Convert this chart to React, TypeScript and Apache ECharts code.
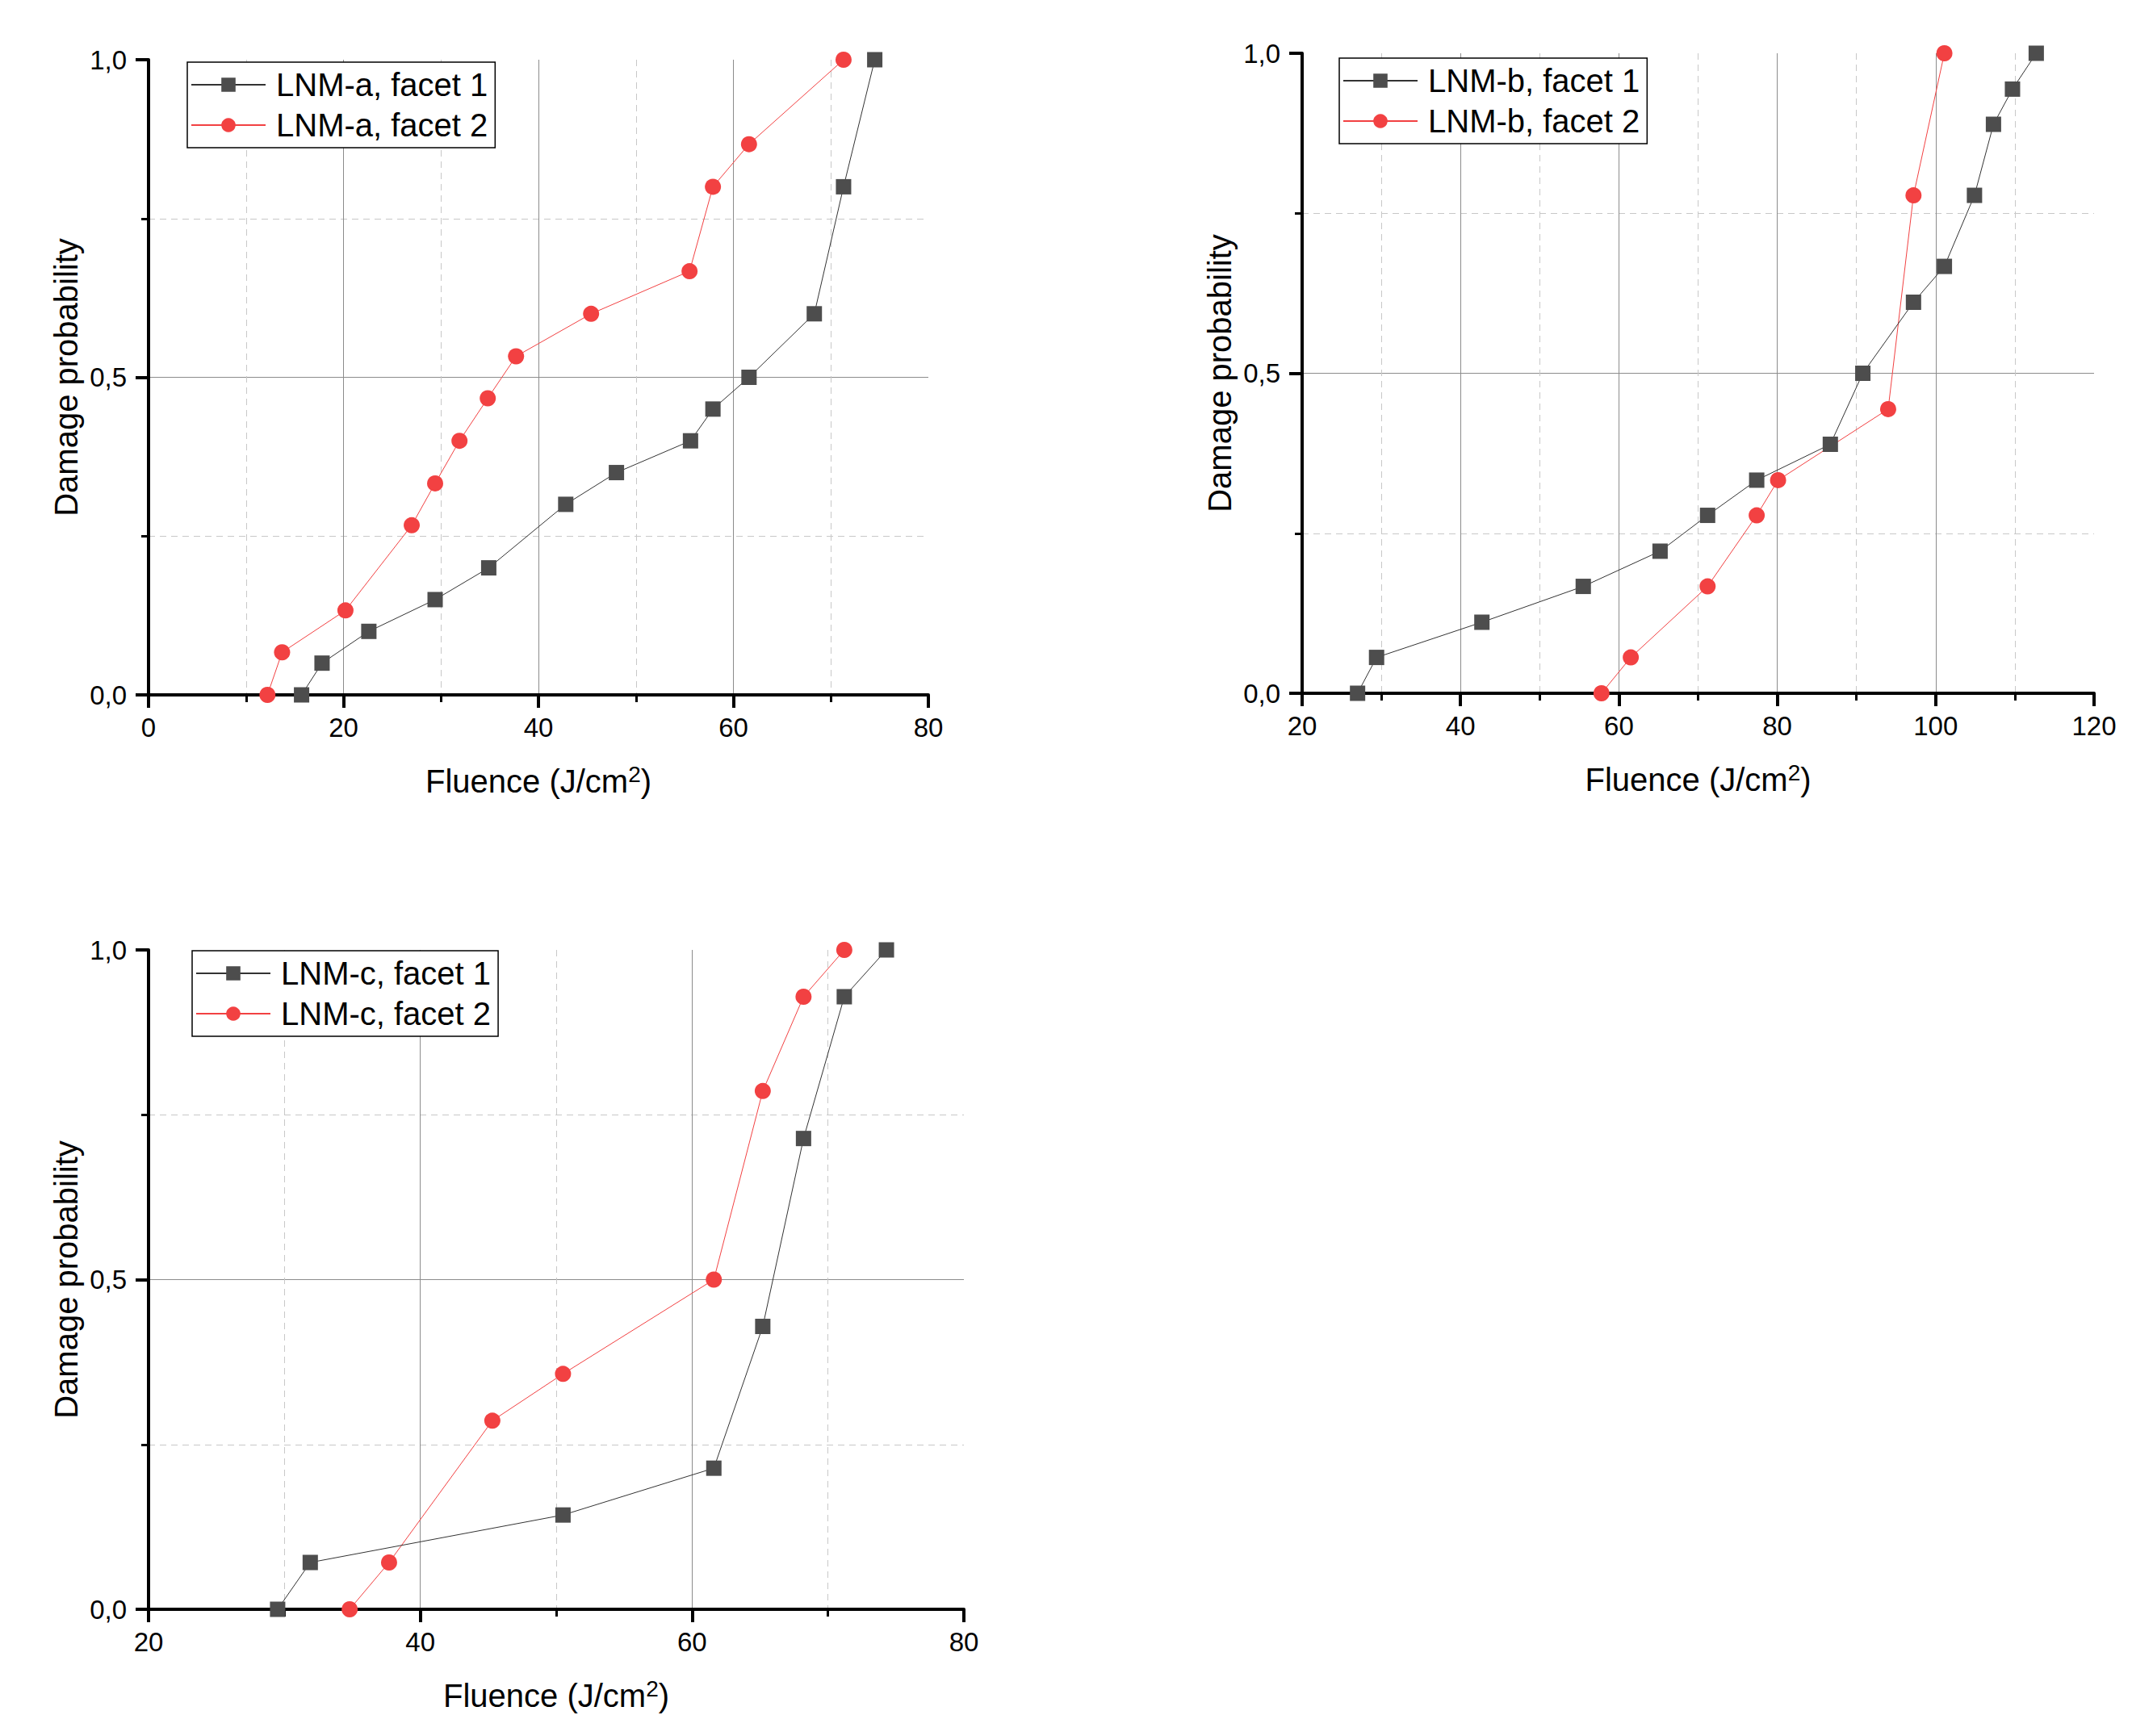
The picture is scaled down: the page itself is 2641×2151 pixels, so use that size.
import React, { useEffect, useRef } from "react";
import * as echarts from "echarts";

const FONT = '"Liberation Sans", Arial, sans-serif';

// ---- Panel a ----
const aFacet1X = [15.7, 17.8, 22.6, 29.4, 34.9, 42.8, 48.0, 55.6, 57.9, 61.6, 68.3, 71.3, 74.5];
const aFacet1Y = [0, 0.05, 0.1, 0.15, 0.2, 0.3, 0.35, 0.4, 0.45, 0.5, 0.6, 0.8, 1.0];
const aFacet2X = [12.2, 13.7, 20.2, 27.0, 29.4, 31.9, 34.8, 37.7, 45.4, 55.5, 57.9, 61.6, 71.3];
const aFacet2Y = [0, 0.067, 0.133, 0.267, 0.333, 0.4, 0.467, 0.533, 0.6, 0.667, 0.8, 0.867, 1.0];

// ---- Panel b ----
const bFacet1X = [27.0, 29.4, 42.7, 55.5, 65.2, 71.2, 77.4, 86.7, 90.8, 97.2, 101.1, 104.9, 107.3, 109.7, 112.7];
const bFacet1Y = [0, 0.056, 0.111, 0.167, 0.222, 0.278, 0.333, 0.389, 0.5, 0.611, 0.667, 0.778, 0.889, 0.944, 1.0];
const bFacet2X = [57.8, 61.5, 71.2, 77.4, 80.1, 94.0, 97.2, 101.1];
const bFacet2Y = [0, 0.056, 0.167, 0.278, 0.333, 0.444, 0.778, 1.0];

// ---- Panel c ----
const cFacet1X = [29.5, 31.9, 50.5, 61.6, 65.2, 68.2, 71.2, 74.3];
const cFacet1Y = [0, 0.071, 0.143, 0.214, 0.429, 0.714, 0.929, 1.0];
const cFacet2X = [34.8, 37.7, 45.3, 50.5, 61.6, 65.2, 68.2, 71.2];
const cFacet2Y = [0, 0.071, 0.286, 0.357, 0.5, 0.786, 0.929, 1.0];

const seriesNames = [
  ["LNM-a, facet 1", "LNM-a, facet 2"],
  ["LNM-b, facet 1", "LNM-b, facet 2"],
  ["LNM-c, facet 1", "LNM-c, facet 2"],
];
const xRanges = [
  [0, 80],
  [20, 120],
  [20, 80],
];
const yTicks = [0, 0.5, 1];
const xTitleMain = "Fluence (J/cm";
const xTitleSup = "2";
const xTitleEnd = ")";
const yTitle = "Damage probability";

function pairs(xs: number[], ys: number[]) {
  return xs.map((x, i) => [x, ys[i]]);
}

const panelData = [
  [pairs(aFacet1X, aFacet1Y), pairs(aFacet2X, aFacet2Y)],
  [pairs(bFacet1X, bFacet1Y), pairs(bFacet2X, bFacet2Y)],
  [pairs(cFacet1X, cFacet1Y), pairs(cFacet2X, cFacet2Y)],
];

// layout (pixels)
const layout = [
  { grid: { left: 184, top: 74, width: 966, height: 787 }, legend: { left: 232, top: 77 } },
  { grid: { left: 1613, top: 66, width: 981, height: 793 }, legend: { left: 1659, top: 72 } },
  { grid: { left: 184, top: 1177, width: 1010, height: 817 }, legend: { left: 238, top: 1178 } },
];

const GRAY = "#4d4d4d";
const RED = "#f24142";

function buildOption() {
  const grid = layout.map((l) => ({ ...l.grid, containLabel: false }));
  const xAxis = layout.map((_, i) => ({
    gridIndex: i,
    type: "value",
    min: xRanges[i][0],
    max: xRanges[i][1],
    interval: 20,
    axisLine: { show: true, onZero: false, lineStyle: { color: "#000", width: 4 } },
    axisTick: { show: true, length: 16, lineStyle: { color: "#000", width: 4 } },
    minorTick: { show: true, splitNumber: 2, length: 9, lineStyle: { color: "#000", width: 3 } },
    axisLabel: { color: "#000", fontSize: 33, fontFamily: FONT, margin: 24 },
    splitLine: {
      show: true,
      showMinLine: false,
      showMaxLine: false,
      lineStyle: { color: "#8c8c8c", width: 1 },
    },
    minorSplitLine: { show: true, lineStyle: { color: "#c8c8c8", width: 1, type: [8, 6] } },
    name: "{t|" + xTitleMain + "}{s|" + xTitleSup + "}{t|" + xTitleEnd + "}",
    nameLocation: "middle",
    nameGap: 84,
    nameTextStyle: {
      rich: {
        t: { fontSize: 40, fontFamily: FONT, color: "#000", lineHeight: 46 },
        s: { fontSize: 28, fontFamily: FONT, color: "#000", lineHeight: 46, verticalAlign: "top" },
      },
    },
  }));
  const yAxis = layout.map((_, i) => ({
    gridIndex: i,
    type: "value",
    min: yTicks[0],
    max: yTicks[yTicks.length - 1],
    interval: yTicks[1] - yTicks[0],
    axisLine: { show: true, onZero: false, lineStyle: { color: "#000", width: 4 } },
    axisTick: { show: true, length: 16, lineStyle: { color: "#000", width: 4 } },
    minorTick: { show: true, splitNumber: 2, length: 9, lineStyle: { color: "#000", width: 3 } },
    axisLabel: {
      color: "#000",
      fontSize: 33,
      fontFamily: FONT,
      margin: 27,
      formatter: (v: number) => v.toFixed(1).replace(".", ","),
    },
    splitLine: {
      show: true,
      showMinLine: false,
      showMaxLine: false,
      lineStyle: { color: "#8c8c8c", width: 1 },
    },
    minorSplitLine: { show: true, lineStyle: { color: "#c8c8c8", width: 1, type: [8, 6] } },
    name: yTitle,
    nameLocation: "middle",
    nameGap: 82,
    nameTextStyle: { fontSize: 40, fontFamily: FONT, color: "#000" },
  }));
  const series: any[] = [];
  panelData.forEach((pd, i) => {
    series.push({
      type: "line",
      name: seriesNames[i][0],
      xAxisIndex: i,
      yAxisIndex: i,
      data: pd[0],
      symbol: "rect",
      symbolSize: 19,
      itemStyle: { color: GRAY },
      lineStyle: { color: "#333", width: 1 },
      z: 3,
    });
    series.push({
      type: "line",
      name: seriesNames[i][1],
      xAxisIndex: i,
      yAxisIndex: i,
      data: pd[1],
      symbol: "circle",
      symbolSize: 20,
      itemStyle: { color: RED },
      lineStyle: { color: RED, width: 1 },
      z: 2,
    });
  });
  const legend = layout.map((l, i) => ({
    orient: "vertical",
    left: l.legend.left,
    top: l.legend.top,
    data: seriesNames[i],
    selectedMode: false,
    itemWidth: 92,
    itemHeight: 22,
    itemGap: 10,
    padding: [8, 9, 8, 4],
    borderColor: "#000",
    borderWidth: 1.5,
    backgroundColor: "#fff",
    formatter: (name: string) => "{a|" + name + "}",
    textStyle: {
      fontSize: 40,
      fontFamily: FONT,
      color: "#000",
      rich: {
        a: { fontSize: 40, fontFamily: FONT, color: "#000", lineHeight: 40, padding: [0, 0, 0, 8] },
      },
    },
  }));
  return {
    animation: false,
    backgroundColor: "#fff",
    grid,
    xAxis,
    yAxis,
    legend,
    series,
  };
}

export default function App() {
  const ref = useRef<HTMLDivElement>(null);
  useEffect(() => {
    if (!ref.current) return;
    const chart = echarts.init(ref.current, undefined, { renderer: "svg" });
    chart.setOption(buildOption() as any);
    return () => chart.dispose();
  }, []);
  return (
    <div
      ref={ref}
      style={{ position: "absolute", left: 0, top: 0, width: 2641, height: 2151, background: "#fff" }}
    />
  );
}
